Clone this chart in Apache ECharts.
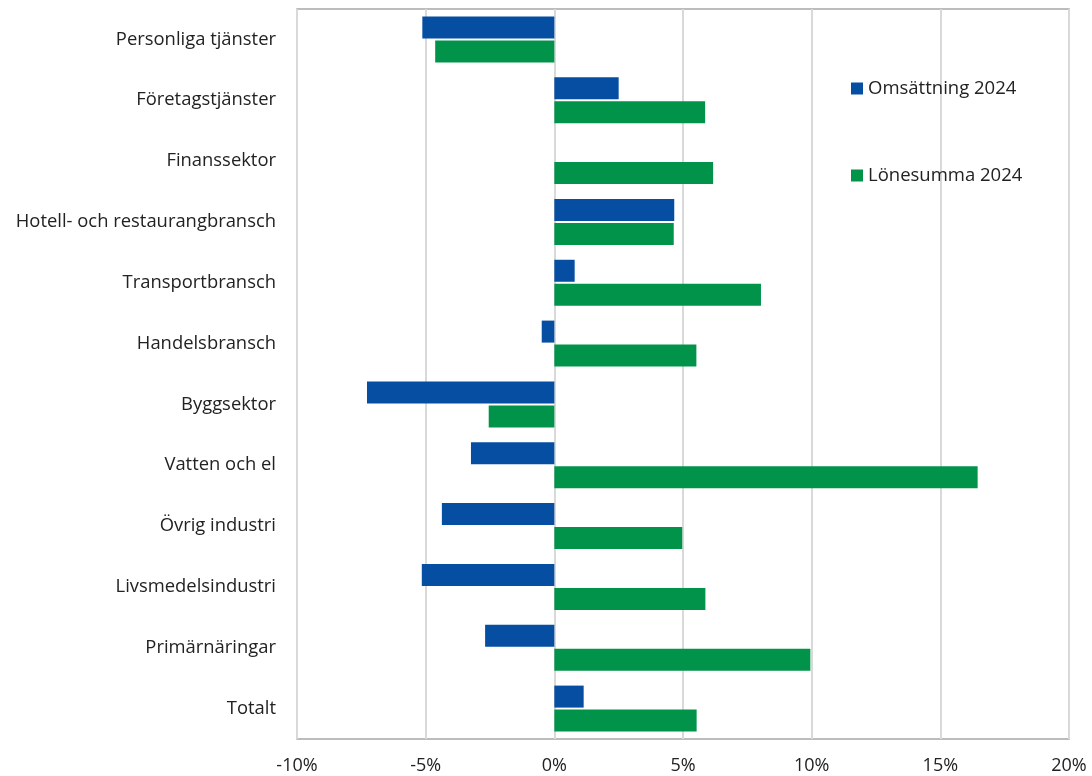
<!DOCTYPE html>
<html><head><meta charset="utf-8">
<script src="https://cdn.jsdelivr.net/npm/echarts@6/dist/echarts.min.js"></script>
<style>html,body{margin:0;padding:0;background:#fff}#c{width:1092px;height:776px}</style>
</head><body><div id="c"></div>
<script>
const categories = ["Personliga tjänster","Företagstjänster","Finanssektor","Hotell- och restaurangbransch","Transportbransch","Handelsbransch","Byggsektor","Vatten och el","Övrig industri","Livsmedelsindustri","Primärnäringar","Totalt"];
const omsattning = [-5.13, 2.50, 0, 4.66, 0.79, -0.49, -7.28, -3.24, -4.37, -5.15, -2.69, 1.14];
const lonesumma = [-4.63, 5.86, 6.17, 4.64, 8.03, 5.52, -2.55, 16.45, 4.97, 5.87, 9.95, 5.53];
const seriesNames = ["Omsättning 2024", "Lönesumma 2024"];
const xTicks = {min: -10, max: 20, interval: 5};

const font = "'Open Sans', sans-serif";
const chart = echarts.init(document.getElementById('c'), null, {renderer: 'canvas'});
chart.setOption({
  animation: false,
  textStyle: {fontFamily: font},
  grid: {left: 297, right: 23, top: 9, bottom: 37, show: true, borderColor: '#A6A6A6', borderWidth: 1.5, containLabel: false},
  legend: [
    {data: [seriesNames[0]], left: 846, top: 74, itemWidth: 12, itemHeight: 12, icon: 'rect', itemGap: 6,
     textStyle: {fontSize: 18.5, color: '#222', fontFamily: font}},
    {data: [seriesNames[1]], left: 846, top: 161, itemWidth: 12, itemHeight: 12, icon: 'rect', itemGap: 6,
     textStyle: {fontSize: 18.5, color: '#222', fontFamily: font}}
  ],
  xAxis: {
    type: 'value', min: xTicks.min, max: xTicks.max, interval: xTicks.interval,
    axisLabel: {formatter: '{value}%', fontSize: 18, color: '#222', margin: 18, fontFamily: font},
    axisLine: {show: false}, axisTick: {show: false},
    splitLine: {show: true, lineStyle: {color: '#D9D9D9', width: 2}}
  },
  yAxis: {
    type: 'category', data: categories, inverse: true,
    axisLine: {show: false, onZero: false}, axisTick: {show: false},
    axisLabel: {fontSize: 18.4, color: '#222', margin: 21, fontFamily: font}
  },
  series: [
    {name: seriesNames[0], type: 'bar', data: omsattning, barWidth: 22, barGap: '9%',
     itemStyle: {color: '#054EA2'}},
    {name: seriesNames[1], type: 'bar', data: lonesumma, barWidth: 22,
     itemStyle: {color: '#02934B'}}
  ]
});
</script></body></html>
